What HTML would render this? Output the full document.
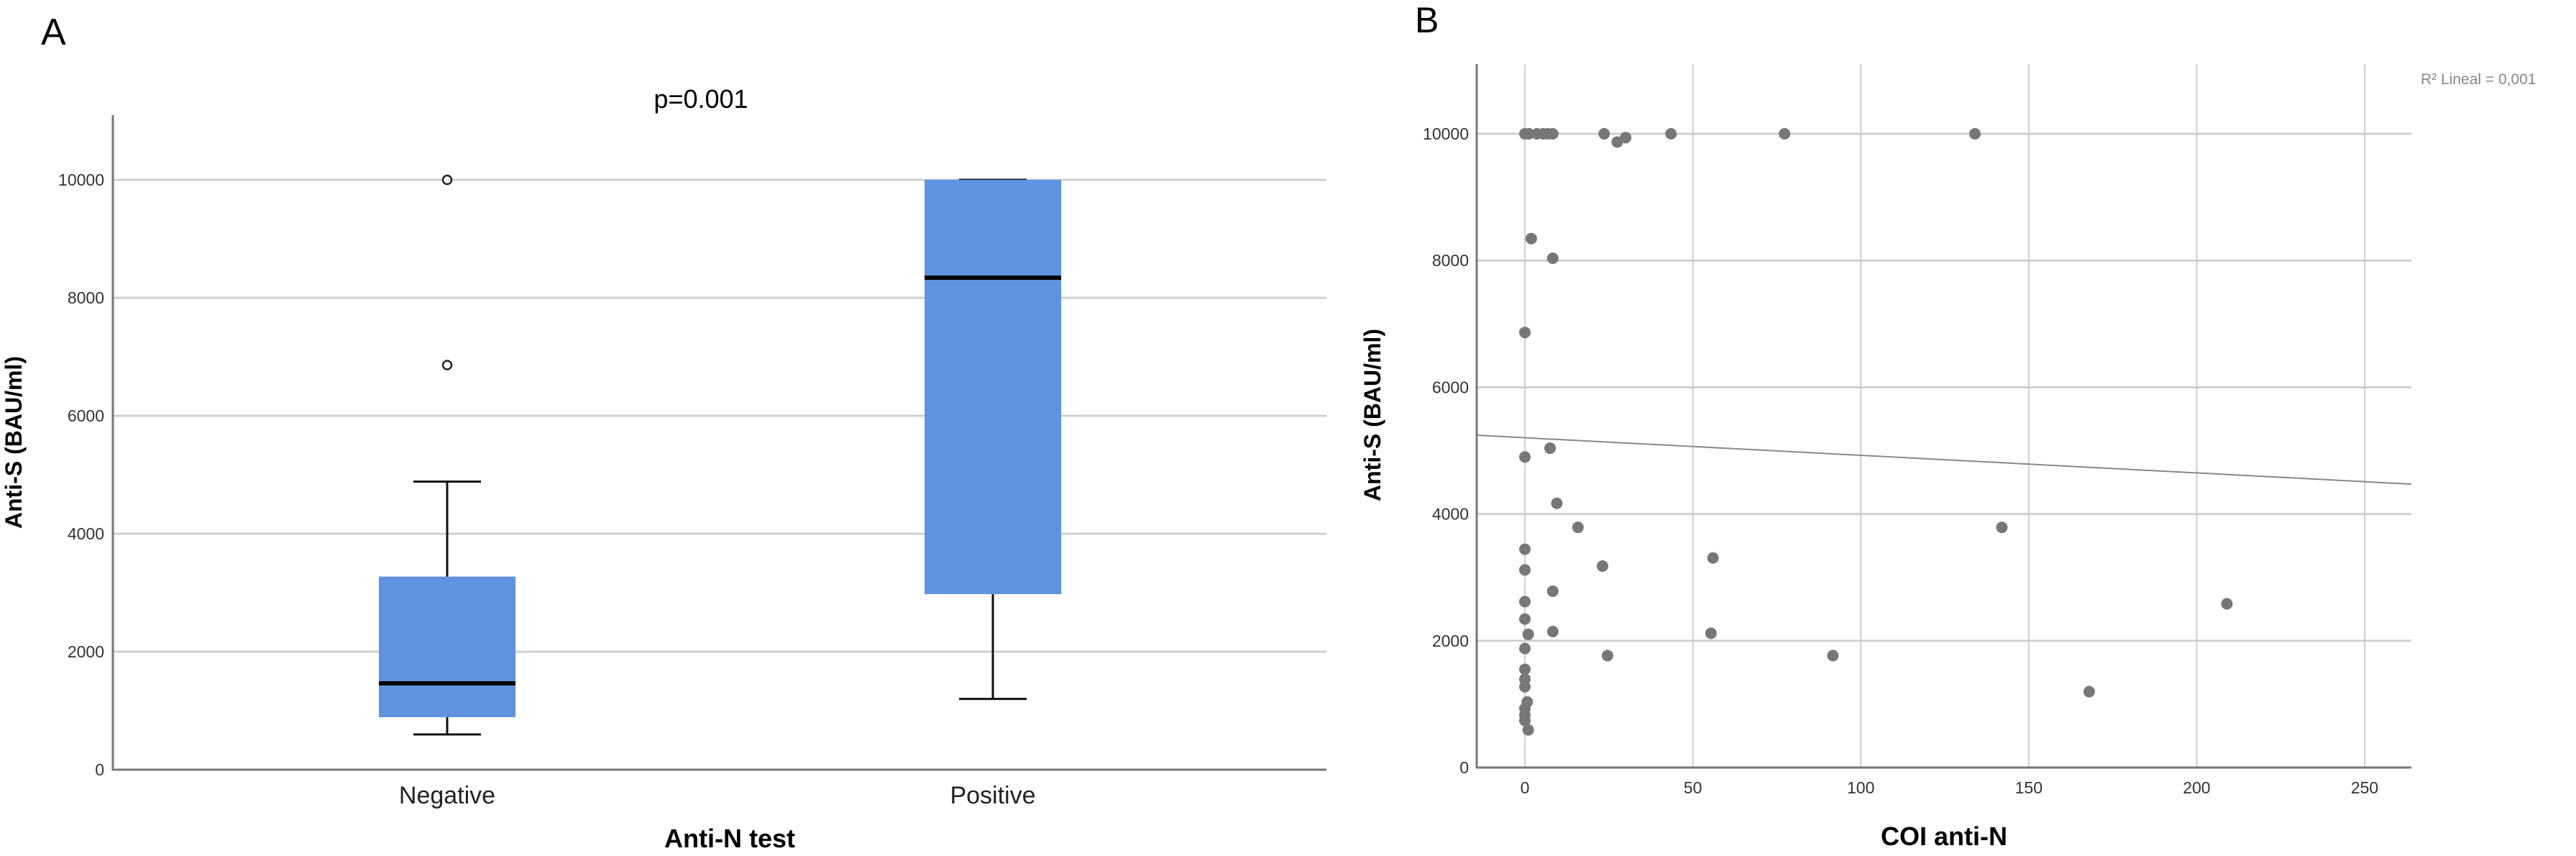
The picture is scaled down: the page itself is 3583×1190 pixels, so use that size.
<!DOCTYPE html>
<html><head><meta charset="utf-8"><style>
html,body{margin:0;padding:0;background:#fff;}
svg{display:block;font-family:"Liberation Sans",sans-serif;}
</style></head><body>
<svg id="chart" width="3583" height="1190" viewBox="0 0 3583 1190" xmlns="http://www.w3.org/2000/svg">
<g id="pa"></g>
<g id="pb"></g>
</svg>
<script>
// Panel A data
const groupsA = ["Negative", "Positive"];
const q1A = [890, 2976];
const medianA = [1463, 8341];
const q3A = [3274, 10000];
const whiskerLowA = [598, 1200];
const whiskerHighA = [4884, 10000];
const outliersA = [[10000, 6860], []];
const yTicksA = [0, 2000, 4000, 6000, 8000, 10000];

// Panel B data
const coiB = [0,1.2,3.6,5.4,6.8,8.3,23.6,43.5,77.3,134,27.5,30,1.9,8.3,0,0,7.5,9.5,15.8,0,0,56,23.1,8.3,0,0,1,8.3,55.4,0,24.6,91.7,142,209,168,0,0,0,0.7,0,0,0,1];
const antiSB = [10000,10000,10000,10000,10000,10000,10000,10000,10000,10000,9870,9940,8346,8036,6865,4901,5039,4169,3790,3445,3118,3307,3178,2782,2618,2343,2102,2145,2119,1878,1766,1766,3790,2584,1197,1550,1395,1275,1034,930,827,741,594];
const yTicksB = [0, 2000, 4000, 6000, 8000, 10000];
const xTicksB = [0, 50, 100, 150, 200, 250];
const fitB = [5204, -2.775]; // intercept, slope

const NS = "http://www.w3.org/2000/svg";
function mk(parent, tag, attrs, text) {
  const e = document.createElementNS(NS, tag);
  for (const k in attrs) e.setAttribute(k, attrs[k]);
  if (text !== undefined) e.textContent = text;
  parent.appendChild(e);
  return e;
}
const pa = document.getElementById('pa');
const pb = document.getElementById('pb');

// ---- Panel A ----
const axA = {x0: 157, x1: 1845, y0: 1070, yTop: 160};
const yA = v => axA.y0 - v * 0.082;
const xA = i => [622, 1381][i];
let t;
t = mk(pa, 'text', {x: 57, y: 62, 'font-size': 52}, 'A');
 
t = mk(pa, 'text', {x: 975, y: 150, 'font-size': 36, 'text-anchor': 'middle'}, 'p=0.001');
 
yTicksA.forEach(v => {
  if (v > 0) {
    const l = mk(pa, 'line', {x1: axA.x0, x2: axA.x1, y1: yA(v), y2: yA(v), stroke: '#cfcfcf', 'stroke-width': 3});
     
  }
  const tt = mk(pa, 'text', {x: 145, y: yA(v) + 8, 'font-size': 23, 'text-anchor': 'end', fill: '#333'}, String(v));
   
});
t = mk(pa, 'path', {d: `M${axA.x0} ${axA.yTop} V${axA.y0} H${axA.x1}`, fill: 'none', stroke: '#777', 'stroke-width': 3});
 
groupsA.forEach((g, i) => {
  const cx = xA(i), hw = 95, cw = 47;
  let e;
  e = mk(pa, 'line', {x1: cx, x2: cx, y1: yA(whiskerHighA[i]), y2: yA(q3A[i]), stroke: '#111', 'stroke-width': 3});
   
  e = mk(pa, 'line', {x1: cx, x2: cx, y1: yA(q1A[i]), y2: yA(whiskerLowA[i]), stroke: '#111', 'stroke-width': 3});
   
  e = mk(pa, 'line', {x1: cx - cw, x2: cx + cw, y1: yA(whiskerHighA[i]), y2: yA(whiskerHighA[i]), stroke: '#111', 'stroke-width': 3});
   
  e = mk(pa, 'line', {x1: cx - cw, x2: cx + cw, y1: yA(whiskerLowA[i]), y2: yA(whiskerLowA[i]), stroke: '#111', 'stroke-width': 3});
   
  e = mk(pa, 'rect', {x: cx - hw, y: yA(q3A[i]), width: 2 * hw, height: yA(q1A[i]) - yA(q3A[i]), fill: '#5F93DF'});
   
  e = mk(pa, 'line', {x1: cx - hw, x2: cx + hw, y1: yA(medianA[i]), y2: yA(medianA[i]), stroke: '#000', 'stroke-width': 6});
   
  outliersA[i].forEach(v => {
    const c = mk(pa, 'circle', {cx: cx, cy: yA(v), r: 6, fill: '#fff', stroke: '#222', 'stroke-width': 2.5});
     
  });
  e = mk(pa, 'text', {x: cx, y: 1117, 'font-size': 34, 'text-anchor': 'middle', fill: '#222'}, g);
   
});
t = mk(pa, 'text', {x: 1015, y: 1178, 'font-size': 36, 'font-weight': 'bold', 'text-anchor': 'middle'}, 'Anti-N test');
 
t = mk(pa, 'text', {x: 0, y: 0, 'font-size': 32, 'font-weight': 'bold', 'text-anchor': 'middle', transform: 'translate(30,615) rotate(-90)'}, 'Anti-S (BAU/ml)');
 

// ---- Panel B ----
const axB = {x0: 2054, x1: 3354, y0: 1067, yTop: 89};
const xB = v => 2121 + v * 4.672;
const yB = v => axB.y0 - v * 0.0881;
t = mk(pb, 'text', {x: 1968, y: 45, 'font-size': 50}, 'B');
 
xTicksB.forEach(v => {
  const l = mk(pb, 'line', {x1: xB(v), x2: xB(v), y1: axB.yTop, y2: axB.y0, stroke: '#cfcfcf', 'stroke-width': 2});
   
  const tt = mk(pb, 'text', {x: xB(v), y: 1103, 'font-size': 23, 'text-anchor': 'middle', fill: '#333'}, String(v));
   
});
yTicksB.forEach(v => {
  if (v > 0) {
    const l = mk(pb, 'line', {x1: axB.x0, x2: axB.x1, y1: yB(v), y2: yB(v), stroke: '#cfcfcf', 'stroke-width': 3});
     
  }
  const tt = mk(pb, 'text', {x: 2043, y: yB(v) + 8, 'font-size': 23, 'text-anchor': 'end', fill: '#333'}, String(v));
   
});
t = mk(pb, 'path', {d: `M${axB.x0} ${axB.yTop} V${axB.y0} H${axB.x1}`, fill: 'none', stroke: '#777', 'stroke-width': 3});
 
const xl = (axB.x0 - 2121) / 4.672, xr = (axB.x1 - 2121) / 4.672;
t = mk(pb, 'line', {x1: xB(xl), x2: xB(xr), y1: yB(fitB[0] + fitB[1] * xl), y2: yB(fitB[0] + fitB[1] * xr), stroke: '#888', 'stroke-width': 2});
 
coiB.forEach((v, i) => {
  const c = mk(pb, 'circle', {cx: xB(v), cy: yB(antiSB[i]), r: 8, fill: '#777'});
   
});
t = mk(pb, 'text', {x: 3367, y: 117, 'font-size': 21, fill: '#888'}, 'R² Lineal = 0,001');
 
t = mk(pb, 'text', {x: 2704, y: 1175, 'font-size': 36, 'font-weight': 'bold', 'text-anchor': 'middle'}, 'COI anti-N');
 
t = mk(pb, 'text', {x: 0, y: 0, 'font-size': 32, 'font-weight': 'bold', 'text-anchor': 'middle', transform: 'translate(1920,577) rotate(-90)'}, 'Anti-S (BAU/ml)');
 
</script>
</body></html>
